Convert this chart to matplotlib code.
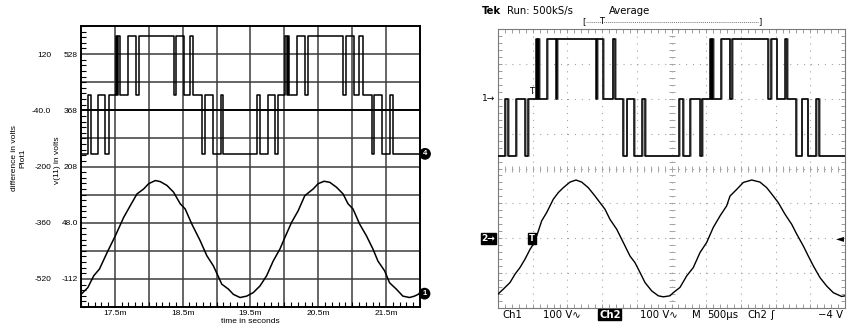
import matplotlib.pyplot as plt
import numpy as np
from matplotlib.lines import Line2D
from matplotlib.ticker import MultipleLocator
from matplotlib.transforms import offset_copy

# ---------------- simulation (left) ----------------
# switching instants (ms) of the inverter output and the level after each one
sim_edge_t = [17.000, 17.100, 17.147, 17.253, 17.360, 17.412, 17.515, 17.537, 17.551, 17.574,
              17.688, 17.816, 17.853, 18.375, 18.404, 18.522, 18.610, 18.654, 18.787, 18.826,
              18.941, 19.062, 19.096,
              19.600, 19.647, 19.753, 19.860, 19.912, 20.012, 20.037, 20.051, 20.074, 20.188,
              20.306, 20.346, 20.870, 20.904, 21.022, 21.106, 21.154, 21.287, 21.326, 21.441,
              21.562, 21.596]
sim_edge_lvl = [-1, 0, -1, 0, -1, 0, 1, 0, 1, 0, 1, 0, 1, 0, 1, 0, 1, 0, -1, 0, -1, 0, -1,
                0, -1, 0, -1, 0, 1, 0, 1, 0, 1, 0, 1, 0, 1, 0, 1, 0, -1, 0, -1, 0, -1]
sim_level_volts = {-1: -164, 0: 3, 1: 172}

# v(11), the filtered output
sim_t = [17.000, 17.100, 17.188, 17.272, 17.385, 17.507, 17.629, 17.728, 17.826, 17.924,
         17.997, 18.096, 18.169, 18.268, 18.365, 18.463, 18.537, 18.635, 18.757, 18.856,
         18.953, 19.020, 19.076, 19.174, 19.247, 19.346, 19.444, 19.541, 19.640, 19.738,
         19.835, 19.934, 20.007, 20.106, 20.203, 20.301, 20.424, 20.497, 20.585, 20.669,
         20.768, 20.865, 20.938, 21.012, 21.110, 21.209, 21.306, 21.379, 21.478, 21.551,
         21.650, 21.747, 21.846, 21.919, 21.993]
sim_v = [-156, -137, -103, -84, -37, 11, 63, 97, 130, 144,
         159, 168, 165, 154, 135, 102, 87, 44, -3, -46,
         -75, -103, -127, -141, -156, -165, -161, -151, -132, -103,
         -61, -27, 6, 49, 82, 125, 144, 159, 166, 163,
         149, 130, 102, 87, 44, 11, -27, -61, -89, -123,
         -141, -161, -165, -161, -154]

time_ticks = [17.5, 18.5, 19.5, 20.5, 21.5]
time_labels = ['17.5m', '18.5m', '19.5m', '20.5m', '21.5m']
v11_ticks = [528, 368, 208, 48, -112]
v11_labels = ['528', '368', '208', '48.0', '-112']
diff_ticks = [120, -40, -200, -360, -520]
diff_labels = ['120', '-40.0', '-200', '-360', '-520']

# ---------------- scope capture (right) ----------------
sc_edge_t = [0.000, 0.105, 0.150, 0.258, 0.395, 0.437, 0.545, 0.565, 0.575, 0.595,
             0.710, 0.836, 0.856, 1.410, 1.431, 1.520, 1.650, 1.690, 1.806, 1.852,
             1.955, 2.072, 2.118,
             2.615, 2.662, 2.772, 2.915, 2.938, 3.050, 3.068, 3.078, 3.098, 3.215,
             3.338, 3.375, 3.895, 3.936, 4.015, 4.135, 4.170, 4.300, 4.375, 4.462,
             4.584, 4.632]
sc_edge_lvl = sim_edge_lvl
sc_level_volts = {-1: -165, 0: 0, 1: 172}

sc_t = [0.0, 0.076, 0.173, 0.245, 0.317, 0.389, 0.461, 0.509, 0.558, 0.630,
        0.702, 0.797, 0.869, 0.941, 1.037, 1.124, 1.206, 1.301, 1.398, 1.470,
        1.542, 1.614, 1.710, 1.805, 1.902, 1.974, 2.046, 2.118, 2.215, 2.310,
        2.382, 2.478, 2.526, 2.622, 2.719, 2.814, 2.911, 3.007, 3.102, 3.199,
        3.295, 3.343, 3.439, 3.535, 3.656, 3.775, 3.872, 3.967, 4.039, 4.135,
        4.232, 4.304, 4.399, 4.471, 4.543, 4.640, 4.736, 4.831, 4.952, 5.0]
sc_v = [-160, -146, -127, -103, -84, -60, -32, -17, 7, 50,
        74, 112, 131, 145, 161, 167, 161, 145, 121, 102,
        83, 54, 26, -12, -51, -70, -98, -127, -151, -165,
        -168, -165, -156, -141, -108, -84, -41, -12, 31, 64,
        93, 121, 140, 160, 167, 161, 145, 121, 102, 69,
        40, 12, -22, -51, -79, -113, -137, -156, -167, -165]

ch1_pos, ch2_pos = 2, -2      # channel ground markers, divisions
volts_per_div = 100

plt.rcParams['font.family'] = ['Liberation Sans', 'DejaVu Sans']
W, H = 855, 333
fig = plt.figure(figsize=(W / 100, H / 100), dpi=100)


def fx(x):
    return x / W


def fy(y):
    return 1 - y / H


# ======== left: simulation plot ========
ax = fig.add_axes([fx(81), fy(307), 339 / W, 281 / H])
ax.set_xlim(17.0, 22.0)
ax.set_ylim(-192, 608)
for x in np.arange(17.5, 22.0, 0.5):
    ax.axvline(x, color='#3c3c3c', lw=1.1, zorder=1)
for y in np.arange(-112, 608, 80):
    dark = y == 368
    ax.axhline(y, color='black' if dark else '#3c3c3c', lw=1.4 if dark else 1.1, zorder=1)

ax.set_xticks(time_ticks)
ax.set_xticklabels(time_labels)
ax.set_yticks(v11_ticks)
ax.set_yticklabels(v11_labels)
ax.xaxis.set_minor_locator(MultipleLocator(0.1))
ax.yaxis.set_minor_locator(MultipleLocator(16))
ax.tick_params(which='major', length=0, labelsize=6)
ax.tick_params(axis='x', which='major', pad=2)
ax.tick_params(axis='y', which='major', pad=2.2)
ax.tick_params(which='minor', direction='in', length=3.5, width=0.8)
ax.set_xlabel('time in seconds', fontsize=6, labelpad=1)
for s in ax.spines.values():
    s.set_linewidth(1.4)

ax.plot(sim_t, sim_v, color='black', lw=1.1, zorder=3)
tr = offset_copy(ax.transData, fig=fig, x=5, y=0, units='dots')
ax.text(sim_t[-1], sim_v[-1], '1', transform=tr, ha='center', va='center', color='white',
        fontsize=5.5, weight='bold', clip_on=False,
        bbox=dict(boxstyle='circle,pad=0.22', fc='black', ec='black'))

ax2 = ax.twinx()
ax2.set_ylim(-600, 200)
ax2.yaxis.tick_left()
for s in ax2.spines.values():
    s.set_visible(False)
ax2.spines['left'].set_position(('outward', 19.5))
ax2.set_yticks(diff_ticks)
ax2.set_yticklabels(diff_labels)
ax2.tick_params(length=0, pad=2, labelsize=6)

sq_t = sim_edge_t + [22.0]
sq_v = [sim_level_volts[k] for k in sim_edge_lvl]
sq_v = sq_v + [sq_v[-1]]
ax2.step(sq_t, sq_v, where='post', color='black', lw=1.1)
tr2 = offset_copy(ax2.transData, fig=fig, x=5, y=0, units='dots')
ax2.text(sq_t[-1], sq_v[-1], '4', transform=tr2, ha='center', va='center', color='white',
         fontsize=5.5, weight='bold', clip_on=False,
         bbox=dict(boxstyle='circle,pad=0.22', fc='black', ec='black'))

fig.text(fx(57), fy(160), 'v(11) in volts', rotation=90, fontsize=6, ha='center', va='center')
fig.text(fx(23), fy(158), 'Plot1', rotation=90, fontsize=6, ha='center', va='center')
fig.text(fx(15), fy(158), 'difference in volts', rotation=90, fontsize=6,
         ha='center', va='center')

# ======== right: oscilloscope screen ========
sc = fig.add_axes([fx(498), fy(308), 347 / W, 279 / H])
sc.set_xlim(0, 5)
sc.set_ylim(-4, 4)
grat = '#a4a4a4'
dots = dict(color=grat, lw=0.8, ls=(0, (1, 5.25)), zorder=1)
for x in np.arange(0.5, 5.0, 0.5):
    sc.axvline(x, **dots)
for y in range(-3, 4):
    sc.axhline(y, **dots)
sc.plot(np.arange(0, 5.001, 0.1), np.zeros(51), ls='none', marker='|', ms=4, mew=0.7,
        color=grat, zorder=1)
sc.plot(np.full(41, 2.5), np.linspace(-4, 4, 41), ls='none', marker='_', ms=4, mew=0.7,
        color=grat, zorder=1)
sc.xaxis.set_major_locator(MultipleLocator(0.5))
sc.xaxis.set_minor_locator(MultipleLocator(0.1))
sc.yaxis.set_major_locator(MultipleLocator(1))
sc.yaxis.set_minor_locator(MultipleLocator(0.2))
sc.tick_params(which='both', direction='in', top=True, right=True, length=3, width=0.6,
               color='#8c8c8c', labelbottom=False, labelleft=False)
for s in sc.spines.values():
    s.set_color('#7a7a7a')
    s.set_linewidth(0.8)

c1_t = np.array(sc_edge_t + [5.0])
c1_v = [sc_level_volts[k] for k in sc_edge_lvl]
c1_y = ch1_pos + np.array(c1_v + [c1_v[-1]]) / volts_per_div
sc.step(c1_t + 0.012, c1_y, where='post', color='#8a8a8a', lw=1.2, zorder=2)
sc.step(c1_t, c1_y, where='post', color='black', lw=1.1, zorder=3)
sc.plot(sc_t, ch2_pos + np.array(sc_v) / volts_per_div, color='black', lw=1.0, zorder=3)

# channel / trigger markers
sc.annotate('1→', xy=(0, ch1_pos), xycoords=('axes fraction', 'data'), xytext=(-2, 0),
            textcoords='offset points', ha='right', va='center', fontsize=6.5,
            family='DejaVu Sans', annotation_clip=False)
sc.annotate('2→', xy=(0, ch2_pos), xycoords=('axes fraction', 'data'), xytext=(-2, 0),
            textcoords='offset points', ha='right', va='center', fontsize=6.5,
            family='DejaVu Sans', color='white', weight='bold', annotation_clip=False,
            bbox=dict(boxstyle='square,pad=0.1', fc='black', ec='black'))
sc.annotate('◄', xy=(1, ch2_pos), xycoords=('axes fraction', 'data'), xytext=(-1, 0),
            textcoords='offset points', ha='right', va='center', fontsize=7.5,
            family='DejaVu Sans', annotation_clip=False)
sc.text(0.49, ch2_pos, 'T', ha='center', va='center', fontsize=6, color='white',
        weight='bold', family='DejaVu Sans', zorder=4,
        bbox=dict(boxstyle='square,pad=0.1', fc='black', ec='black'))
sc.text(0.48, 2.22, 'T', ha='center', va='center', fontsize=6, family='DejaVu Sans', zorder=4)

# readouts around the screen
tek = dict(family='DejaVu Sans', fontsize=7.3, va='center')
fig.text(fx(482), fy(11), 'Tek', weight='bold', **tek)
fig.text(fx(507), fy(11), 'Run: 500kS/s', **tek)
fig.text(fx(609), fy(11), 'Average', **tek)
fig.text(fx(584), fy(22), '[', fontsize=6, family='DejaVu Sans', ha='center', va='center')
fig.text(fx(760), fy(22), ']', fontsize=6, family='DejaVu Sans', ha='center', va='center')
fig.add_artist(Line2D([fx(586), fx(758)], [fy(22), fy(22)], color='#777777', lw=0.7,
                      ls=(0, (1, 1))))
fig.text(fx(602), fy(21.5), 'T', fontsize=6, family='DejaVu Sans', ha='center', va='center')

yb = fy(314.5)
fig.text(fx(502), yb, 'Ch1', **tek)
fig.text(fx(543), yb, '100 V∿', **tek)
fig.text(fx(599), yb, 'Ch2', color='white', weight='bold',
         bbox=dict(boxstyle='square,pad=0.08', fc='black', ec='black'), **tek)
fig.text(fx(640), yb, '100 V∿', **tek)
fig.text(fx(692), yb, 'M', **tek)
fig.text(fx(707), yb, '500µs', **tek)
fig.text(fx(747), yb, 'Ch2', **tek)
fig.text(fx(770), yb, 'ʃ', **tek)
fig.text(fx(818), yb, '−4 V', **tek)

fig.savefig('out.png', dpi=100)
